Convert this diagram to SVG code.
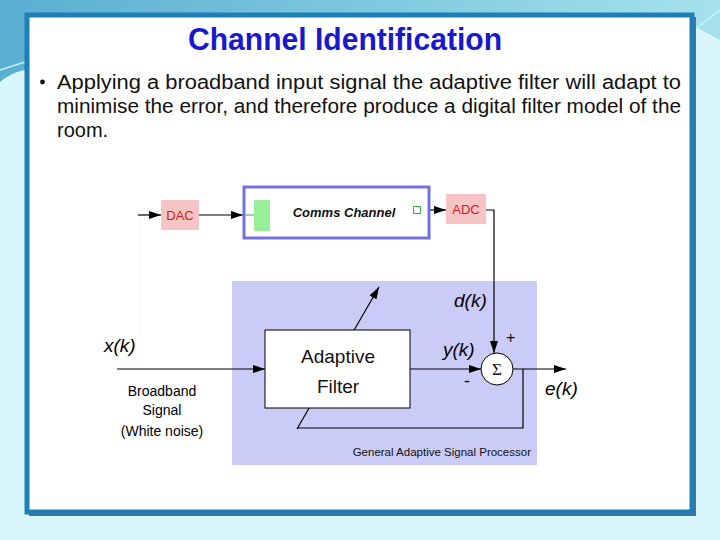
<svg xmlns="http://www.w3.org/2000/svg" width="720" height="540" viewBox="0 0 720 540">
<style>
.t{font-family:"Liberation Sans",Arial,sans-serif}
.ln{stroke:#000;stroke-width:1.2;fill:none}
.conv{fill:#f6c4c4}
.convt{font-family:"Liberation Sans",Arial,sans-serif;font-size:13px;fill:#d01c24;text-anchor:middle}
.it{font-family:"Liberation Sans",Arial,sans-serif;font-style:italic;font-size:19px;fill:#000}
.lbl{font-family:"Liberation Sans",Arial,sans-serif;font-size:14px;fill:#000;text-anchor:middle}
</style>
<defs>
<marker id="ah" viewBox="0 0 12 8" refX="12" refY="4" markerWidth="12" markerHeight="8" markerUnits="userSpaceOnUse" orient="auto">
<path d="M0,0 L12,4 L0,8 Z" fill="#000"/>
</marker>
<linearGradient id="sky" x1="0" y1="0" x2="1" y2="0">
<stop offset="0" stop-color="#5aaed0"/>
<stop offset="0.5" stop-color="#7cc8de"/>
<stop offset="1" stop-color="#a6e2ee"/>
</linearGradient>
</defs>
<rect width="720" height="540" fill="#d9f7fb"/>
<path d="M0,0 H720 V40 Q705,32 694,26 L694,14 H25 V70 Q12,72 0,82 Z" fill="url(#sky)"/>
<path d="M0,70 L25,62 M694,30 L720,10" stroke="#c8f0f6" stroke-width="1.5" fill="none"/>
<rect x="29" y="17" width="667" height="499" fill="#52728a"/>
<rect x="27" y="15" width="665" height="497" fill="#ffffff" stroke="#1e7fb6" stroke-width="5"/>
<g id="title">
<text class="t" x="345" y="50" font-size="32" font-weight="bold" fill="#1818cc" text-anchor="middle" textLength="314" lengthAdjust="spacingAndGlyphs">Channel Identification</text>
</g>
<g id="bullet">
<circle cx="42.5" cy="82" r="2.4" fill="#111"/>
<text class="t" x="57" y="89" font-size="20" fill="#111" textLength="624" lengthAdjust="spacingAndGlyphs">Applying a broadband input signal the adaptive filter will adapt to</text>
<text class="t" x="57" y="113" font-size="20" fill="#111" textLength="624" lengthAdjust="spacingAndGlyphs">minimise the error, and therefore produce a digital filter model of the</text>
<text class="t" x="57" y="137" font-size="20" fill="#111">room.</text>
</g>
<g id="processor-bg">
<rect x="232" y="281" width="305" height="184" fill="#cbcbf7"/>
<text class="t" x="531" y="456" font-size="11.5" fill="#111" text-anchor="end">General Adaptive Signal Processor</text>
</g>
<g id="connectors">
<line x1="140" y1="215" x2="140" y2="336" stroke="#f3f3f3" stroke-width="1"/>
<line class="ln" x1="138" y1="215" x2="161" y2="215" marker-end="url(#ah)"/>
<line class="ln" x1="199" y1="215" x2="243" y2="215" marker-end="url(#ah)"/>
<line class="ln" x1="421" y1="210" x2="446" y2="210" marker-end="url(#ah)"/>
<polyline class="ln" points="486,210 494,210 494,353" marker-end="url(#ah)"/>
<line class="ln" x1="117" y1="369" x2="265" y2="369" marker-end="url(#ah)"/>
<line class="ln" x1="410" y1="369" x2="481" y2="369" marker-end="url(#ah)"/>
<line class="ln" x1="513" y1="369" x2="566" y2="369" marker-end="url(#ah)"/>
<polyline class="ln" points="523,369 523,428 297,428"/>
<line class="ln" x1="297" y1="429" x2="379" y2="287" marker-end="url(#ah)"/>
</g>
<g id="dac">
<rect class="conv" x="161" y="200" width="38" height="30"/>
<text class="convt" x="180" y="220">DAC</text>
</g>
<g id="comms-channel">
<rect x="244" y="187" width="185" height="51" fill="#fff" stroke="#7272e4" stroke-width="3"/>
<line x1="245" y1="215" x2="254" y2="215" stroke="#3cb83c" stroke-width="1"/>
<rect x="254" y="200" width="16" height="31" fill="#99ee99"/>
<text class="t" x="344" y="217" font-size="13" font-weight="bold" font-style="italic" fill="#111" text-anchor="middle">Comms Channel</text>
<rect x="413.5" y="206.5" width="7" height="7" fill="#fff" stroke="#3cb83c" stroke-width="1"/>
</g>
<g id="adc">
<rect class="conv" x="446" y="194" width="40" height="30"/>
<text class="convt" x="466" y="214">ADC</text>
</g>
<g id="adaptive-filter">
<rect x="265" y="330" width="145" height="78" fill="#fff" stroke="#000" stroke-width="1"/>
<text class="t" x="338" y="363" font-size="19" fill="#111" text-anchor="middle">Adaptive</text>
<text class="t" x="338" y="393" font-size="19" fill="#111" text-anchor="middle">Filter</text>
</g>
<g id="summer">
<circle cx="497" cy="369" r="16" fill="#fff" stroke="#000" stroke-width="1"/>
<text x="497" y="375" font-family="'Liberation Serif',serif" font-size="17" fill="#111" text-anchor="middle">Σ</text>
<text class="t" x="506" y="343" font-size="16" fill="#111">+</text>
<text class="t" x="464" y="387" font-size="18" fill="#111">-</text>
</g>
<g id="labels">
<text class="it" x="454" y="307">d(k)</text>
<text class="it" x="443" y="356">y(k)</text>
<text class="it" x="104" y="352">x(k)</text>
<text class="it" x="545" y="395">e(k)</text>
<text class="lbl" x="162" y="396">Broadband</text>
<text class="lbl" x="162" y="415">Signal</text>
<text class="lbl" x="162" y="436">(White noise)</text>
</g>
</svg>
